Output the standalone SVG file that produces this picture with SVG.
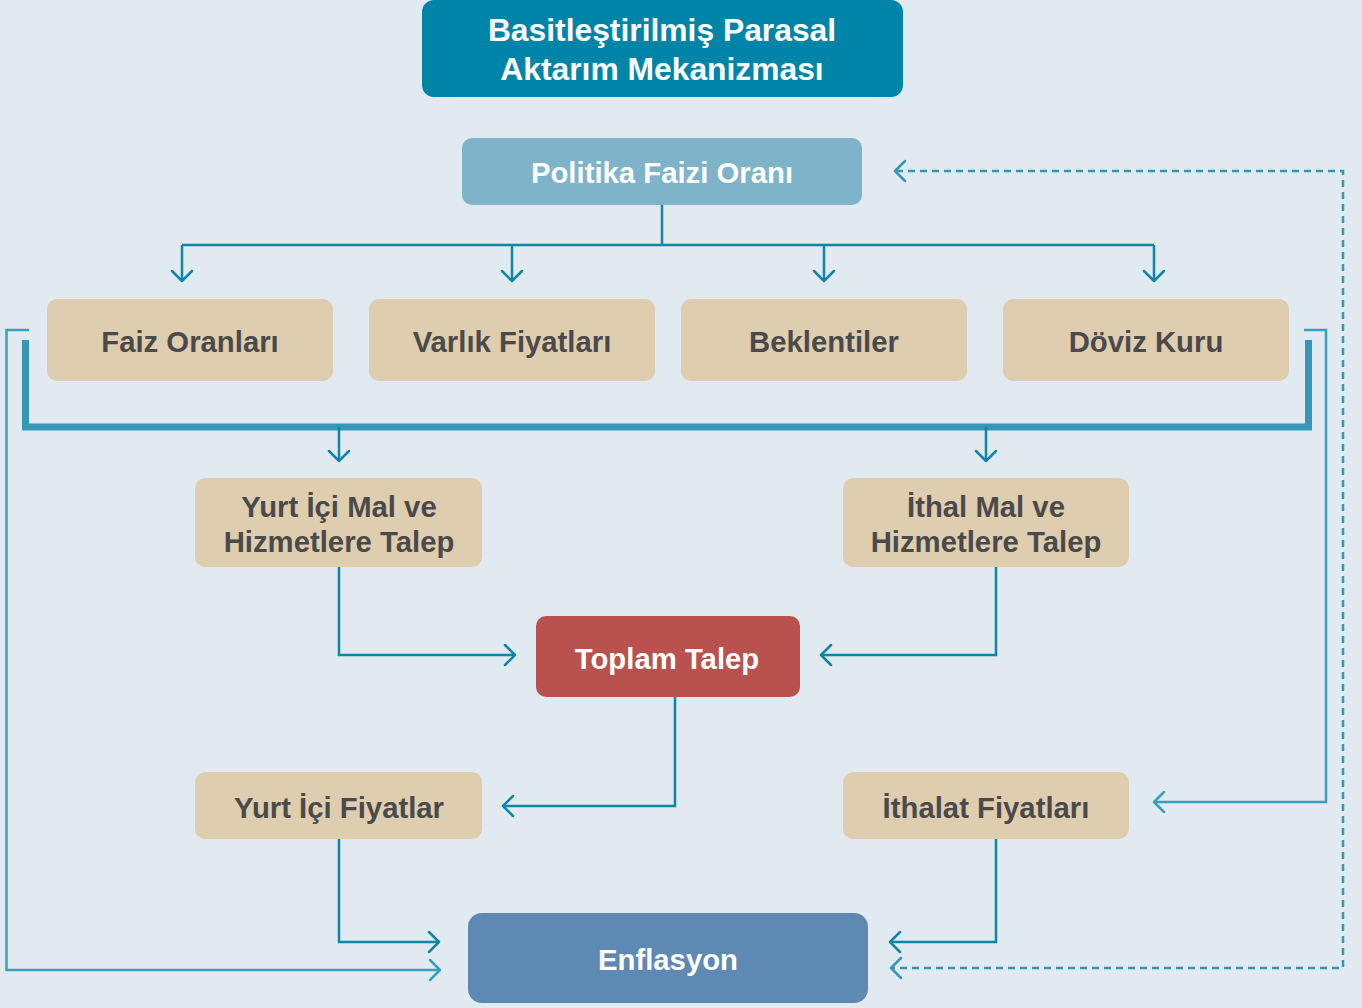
<svg xmlns="http://www.w3.org/2000/svg" width="1362" height="1008" viewBox="0 0 1362 1008">
<defs>
<style>
.t{font-family:"Liberation Sans",Arial,sans-serif;font-weight:bold;text-anchor:middle;dominant-baseline:central}
.w{fill:#ffffff}
.d{fill:#4a4a4a;font-size:29.3px}
.b{fill:#dfcdb0}
.c{fill:none;stroke:#0f86a8;stroke-width:2.5}
.l{fill:none;stroke:#3a9fbc;stroke-width:2.5}
.ah{fill:none;stroke-width:2.5;stroke-linecap:round;stroke-linejoin:round}
</style>
</defs>
<rect width="1362" height="1008" fill="#e1eaf0"/>
<g id="title"><rect x="422" y="0" width="481" height="97" rx="12" fill="#0085a8"/><text class="t w" x="662" y="30" font-size="31.8">Basitleştirilmiş Parasal</text><text class="t w" x="662" y="69" font-size="31.8">Aktarım Mekanizması</text></g>
<g id="politika"><rect x="462" y="138" width="400" height="67" rx="10" fill="#7fb3c9"/><text class="t w" x="662" y="172" font-size="29.3">Politika Faizi Oranı</text></g>
<g id="faiz"><rect class="b" x="47" y="299" width="286" height="82" rx="10"/><text class="t d" x="190" y="341">Faiz Oranları</text></g>
<g id="varlik"><rect class="b" x="369" y="299" width="286" height="82" rx="10"/><text class="t d" x="512" y="341">Varlık Fiyatları</text></g>
<g id="beklentiler"><rect class="b" x="681" y="299" width="286" height="82" rx="10"/><text class="t d" x="824" y="341">Beklentiler</text></g>
<g id="doviz"><rect class="b" x="1003" y="299" width="286" height="82" rx="10"/><text class="t d" x="1146" y="341">Döviz Kuru</text></g>
<g id="yurtici-talep"><rect class="b" x="195" y="478" width="287" height="89" rx="10"/><text class="t d" x="339" y="506">Yurt İçi Mal ve</text><text class="t d" x="339" y="541">Hizmetlere Talep</text></g>
<g id="ithal-talep"><rect class="b" x="843" y="478" width="286" height="89" rx="10"/><text class="t d" x="986" y="506">İthal Mal ve</text><text class="t d" x="986" y="541">Hizmetlere Talep</text></g>
<g id="toplam"><rect x="536" y="616" width="264" height="81" rx="10" fill="#b9524e"/><text class="t w" x="667" y="658" font-size="29.3">Toplam Talep</text></g>
<g id="yurtici-fiyat"><rect class="b" x="195" y="772" width="287" height="67" rx="10"/><text class="t d" x="339" y="807">Yurt İçi Fiyatlar</text></g>
<g id="ithalat-fiyat"><rect class="b" x="843" y="772" width="286" height="67" rx="10"/><text class="t d" x="986" y="807">İthalat Fiyatları</text></g>
<g id="enflasyon"><rect x="468" y="913" width="400" height="90" rx="14" fill="#5e89b2"/><text class="t w" x="668" y="959" font-size="29.3">Enflasyon</text></g>
<g id="connectors">
<path class="c" d="M662 205V245M182 245H1154M182 245V281M512 245V281M824 245V281M1154 245V281"/>
<path class="ah" stroke="#0f86a8" d="M172 271L182 281L192 271M502 271L512 281L522 271M814 271L824 281L834 271M1144 271L1154 281L1164 271"/>
<path d="M25.5 340V427H1308.5V340" fill="none" stroke="#3597b5" stroke-width="7"/>
<path class="c" d="M339 427V461M986 427V461"/>
<path class="ah" stroke="#0f86a8" d="M329 451L339 461L349 451M976 451L986 461L996 451"/>
<path class="c" d="M339 567V655H515M996 567V655H821"/>
<path class="ah" stroke="#0f86a8" d="M505 645L515 655L505 665M831 645L821 655L831 665"/>
<path class="c" d="M675 697V806H503"/>
<path class="ah" stroke="#0f86a8" d="M513 796L503 806L513 816"/>
<path class="c" d="M339 839V942H439M996 839V942H890"/>
<path class="ah" stroke="#0f86a8" d="M429 932L439 942L429 952M900 932L890 942L900 952"/>
<path class="l" d="M29 330H6.5V970H440"/>
<path class="ah" stroke="#3a9fbc" d="M430 960L440 970L430 980"/>
<path class="l" d="M1304 330H1326V802H1154"/>
<path class="ah" stroke="#3a9fbc" d="M1164 792L1154 802L1164 812"/>
<path d="M896 171H1343V968H891" fill="none" stroke="#3597b5" stroke-width="2.5" stroke-dasharray="7,5"/>
<path class="ah" stroke="#3597b5" d="M905 161L895 171L905 181M901 958L891 968L901 978"/>
</g>
</svg>
